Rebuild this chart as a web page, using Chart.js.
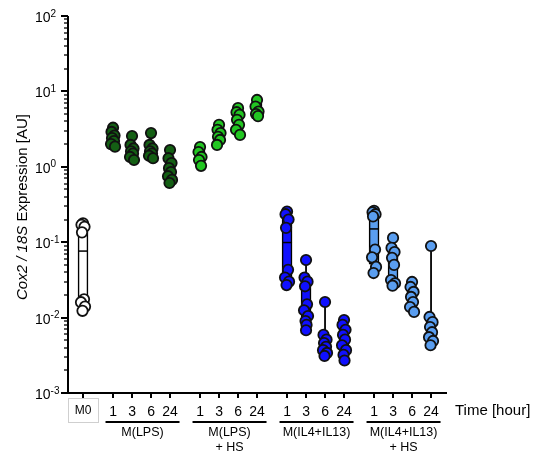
<!DOCTYPE html>
<html><head><meta charset="utf-8">
<script src="https://cdn.jsdelivr.net/npm/chart.js@4"></script>
<style>html,body{margin:0;padding:0;background:#fff}</style>
</head><body>
<canvas id="c" width="542" height="457"></canvas>
<script>
// ---- data ----
const timeLabels = ['1', '3', '6', '24'];
const groupLabels = [['M(LPS)'], ['M(LPS)', '+ HS'], ['M(IL4+IL13)'], ['M(IL4+IL13)', '+ HS']];
const yTickExponents = [2, 1, 0, -1, -2, -3];
const xAxisTitle = 'Time [hour]';
const controlLabel = 'M0';

const m0 = [0.178, 0.170, 0.160, 0.135, 0.0175, 0.0160, 0.0140, 0.0123];
const lps = [
  [3.3, 2.9, 2.6, 2.4, 2.2, 2.0, 1.85],
  [2.56, 1.95, 1.75, 1.6, 1.5, 1.35, 1.23],
  [2.8, 1.95, 1.75, 1.6, 1.5, 1.4, 1.3],
  [1.67, 1.3, 1.12, 0.96, 0.85, 0.75, 0.67, 0.61]
];
const lpsHs = [
  [1.83, 1.57, 1.35, 1.23, 1.03],
  [3.6, 3.1, 2.8, 2.5, 2.27, 1.95],
  [6.0, 5.3, 4.9, 4.2, 3.6, 3.1, 2.65],
  [7.7, 6.3, 5.4, 5.0, 4.7]
];
const il4 = [
  [0.255, 0.235, 0.2, 0.155, 0.043, 0.034, 0.03, 0.027],
  [0.058, 0.034, 0.03, 0.026, 0.015, 0.0125, 0.0105, 0.009, 0.008, 0.0068],
  [0.0161, 0.0059, 0.0051, 0.0046, 0.0041, 0.0037, 0.0034, 0.0031],
  [0.0093, 0.008, 0.0069, 0.0059, 0.0051, 0.0043, 0.0037, 0.0032, 0.0027]
];
const il4Hs = [
  [0.26, 0.25, 0.235, 0.22, 0.08, 0.063, 0.047, 0.039],
  [0.114, 0.084, 0.074, 0.062, 0.05, 0.0315, 0.0285, 0.0265],
  [0.0297, 0.0255, 0.0219, 0.0188, 0.0161, 0.0138, 0.0119],
  [0.089, 0.0102, 0.0087, 0.0075, 0.0064, 0.0055, 0.0049, 0.0043]
];

// ---- styling ----
const colors = { m0: '#ffffff', lps: '#145f14', lpsHs: '#22c622', il4: '#1010ff', il4Hs: '#5a9ef0' };
const FONT = "'Liberation Sans', Arial, sans-serif";
const GROUP_GAP = 1.58;
const jitterPx = [0, -1.5, 1.5, -1, 1, -2, 2, -0.5, 0.5, 0, -1.5, 1.5];
const PX_PER_UNIT = 19;

const m0Pos = 0;
function groupPos(g, t) { return GROUP_GAP + g * (3 + GROUP_GAP) + t; }

function quantile(sorted, p) {
  const n = sorted.length;
  let pos = p * (n + 1);
  if (pos < 1) pos = 1; if (pos > n) pos = n;
  const lo = Math.floor(pos), hi = Math.ceil(pos);
  return sorted[lo - 1] + (pos - lo) * (sorted[hi - 1] - sorted[lo - 1]);
}
function stats(vals) {
  const s = [...vals].sort((a, b) => a - b);
  return { min: s[0], max: s[s.length - 1], q1: quantile(s, 0.25), med: quantile(s, 0.5), q3: quantile(s, 0.75) };
}

const groups = [
  { key: 'm0', sets: [m0], pos: () => m0Pos },
  { key: 'lps', sets: lps, pos: t => groupPos(0, t) },
  { key: 'lpsHs', sets: lpsHs, pos: t => groupPos(1, t) },
  { key: 'il4', sets: il4, pos: t => groupPos(2, t) },
  { key: 'il4Hs', sets: il4Hs, pos: t => groupPos(3, t) }
];

const boxes = [];
const scatterSets = [];
groups.forEach(g => {
  const pts = [];
  g.sets.forEach((vals, t) => {
    const x = g.pos(t);
    boxes.push(Object.assign({ x, color: colors[g.key] }, stats(vals)));
    vals.forEach((v, i) => pts.push({ x: x + jitterPx[i % jitterPx.length] / PX_PER_UNIT, y: v }));
  });
  scatterSets.push({
    type: 'scatter', data: pts, order: 1, clip: false,
    pointRadius: 5.2, pointHoverRadius: 5.2, pointBorderWidth: 1.8,
    pointBorderColor: '#111', pointBackgroundColor: colors[g.key]
  });
});

const boxPlugin = {
  id: 'boxExtras',
  beforeDatasetsDraw(chart) {
    const ctx = chart.ctx, xs = chart.scales.x, ys = chart.scales.y;
    ctx.save(); ctx.strokeStyle = '#000'; ctx.lineWidth = 1.8;
    boxes.forEach(b => {
      const px = xs.getPixelForValue(b.x);
      ctx.beginPath(); ctx.moveTo(px, ys.getPixelForValue(b.min)); ctx.lineTo(px, ys.getPixelForValue(b.max)); ctx.stroke();
    });
    ctx.restore();
  },
  afterDatasetDraw(chart, args) {
    if (args.index !== 0) return;
    const ctx = chart.ctx, xs = chart.scales.x, ys = chart.scales.y;
    ctx.save(); ctx.strokeStyle = '#000'; ctx.lineWidth = 1.5;
    boxes.forEach(b => {
      const px = xs.getPixelForValue(b.x), py = ys.getPixelForValue(b.med);
      ctx.beginPath(); ctx.moveTo(px - 5, py); ctx.lineTo(px + 5, py); ctx.stroke();
    });
    ctx.restore();
  }
};

const axesPlugin = {
  id: 'axesDraw',
  afterDraw(chart) {
    const ctx = chart.ctx, xs = chart.scales.x, ys = chart.scales.y, a = chart.chartArea;
    ctx.save();
    ctx.strokeStyle = '#000'; ctx.fillStyle = '#000'; ctx.lineWidth = 2;
    ctx.beginPath(); ctx.moveTo(a.left, a.top); ctx.lineTo(a.left, a.bottom + 1); ctx.stroke();
    for (let e = -3; e <= 2; e++) {
      for (let m = 1; m <= 9; m++) {
        const v = m * Math.pow(10, e);
        if (v > 100 + 1e-9) break;
        const py = Math.round(ys.getPixelForValue(v));
        const len = m === 1 ? 7 : 4;
        ctx.lineWidth = m === 1 ? 2 : 1.3;
        ctx.beginPath(); ctx.moveTo(a.left - len, py); ctx.lineTo(a.left, py); ctx.stroke();
      }
    }
    ctx.textAlign = 'left'; ctx.textBaseline = 'alphabetic';
    yTickExponents.forEach(e => {
      const py = ys.getPixelForValue(Math.pow(10, e));
      ctx.font = '14px ' + FONT;
      ctx.fillText('10', 35, py + 6);
      const w = ctx.measureText('10').width;
      ctx.font = '10px ' + FONT;
      ctx.fillText(String(e), 35 + w, py + 0.5);
    });
    ctx.save();
    ctx.translate(23, 207); ctx.rotate(-Math.PI / 2);
    ctx.textBaseline = 'middle';
    const t1 = 'Cox2 / 18S', t2 = ' Expression [AU]';
    ctx.font = 'italic 15px ' + FONT; const w1 = ctx.measureText(t1).width;
    ctx.font = '15px ' + FONT; const w2 = ctx.measureText(t2).width;
    const sx = -(w1 + w2) / 2;
    ctx.font = 'italic 15px ' + FONT; ctx.fillText(t1, sx, 0);
    ctx.font = '15px ' + FONT; ctx.fillText(t2, sx + w1, 0);
    ctx.restore();
    ctx.lineWidth = 2;
    ctx.beginPath(); ctx.moveTo(a.left - 7, a.bottom); ctx.lineTo(a.right, a.bottom); ctx.stroke();
    const allPos = [m0Pos];
    for (let g = 0; g < 4; g++) for (let t = 0; t < 4; t++) allPos.push(groupPos(g, t));
    allPos.forEach(p => {
      const px = Math.round(xs.getPixelForValue(p));
      ctx.beginPath(); ctx.moveTo(px, a.bottom); ctx.lineTo(px, a.bottom + 5); ctx.stroke();
    });
    ctx.textAlign = 'center'; ctx.textBaseline = 'middle';
    ctx.font = '14px ' + FONT;
    for (let g = 0; g < 4; g++) for (let t = 0; t < 4; t++) {
      ctx.fillText(timeLabels[t], xs.getPixelForValue(groupPos(g, t)), 412);
    }
    const mx = xs.getPixelForValue(m0Pos);
    ctx.strokeStyle = '#cfcfcf'; ctx.lineWidth = 1;
    ctx.strokeRect(68.5, 398.5, 30, 24);
    ctx.font = '12px ' + FONT;
    ctx.fillText(controlLabel, mx, 411);
    ctx.strokeStyle = '#000'; ctx.lineWidth = 2;
    for (let g = 0; g < 4; g++) {
      const c = (xs.getPixelForValue(groupPos(g, 0)) + xs.getPixelForValue(groupPos(g, 3))) / 2 + 1;
      ctx.beginPath(); ctx.moveTo(c - 37, 422); ctx.lineTo(c + 37, 422); ctx.stroke();
      ctx.font = '12.5px ' + FONT;
      groupLabels[g].forEach((s, i) => ctx.fillText(s, c, 433 + i * 15));
    }
    ctx.textAlign = 'left'; ctx.font = '15px ' + FONT;
    ctx.fillText(xAxisTitle, 455, 411);
    ctx.restore();
  }
};

new Chart(document.getElementById('c'), {
  type: 'scatter',
  data: {
    datasets: [
      {
        type: 'bar', order: 2, clip: false,
        data: boxes.map(b => ({ x: b.x, y: [b.q1, b.q3] })),
        backgroundColor: boxes.map(b => b.color),
        borderColor: '#000', borderWidth: 1.6, borderSkipped: false,
        barThickness: 10, grouped: false
      },
      ...scatterSets
    ]
  },
  options: {
    responsive: false, animation: false, devicePixelRatio: 1,
    layout: { padding: { left: 68, right: 95, top: 16, bottom: 64 } },
    plugins: { legend: { display: false }, tooltip: { enabled: false } },
    scales: {
      x: { type: 'linear', min: -0.79, max: 19.16, offset: false, display: false },
      y: { type: 'logarithmic', min: 0.001, max: 100, display: false }
    }
  },
  plugins: [boxPlugin, axesPlugin]
});
</script>
</body></html>
